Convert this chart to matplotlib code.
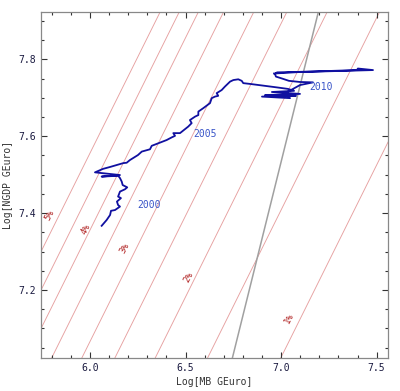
import matplotlib
matplotlib.use("Agg")
import matplotlib.pyplot as plt
from matplotlib.ticker import MultipleLocator

# ---- data ----
mb = [6.061, 6.087, 6.105, 6.110, 6.131, 6.157, 6.147, 6.141, 6.162, 6.147,
      6.157, 6.183, 6.195, 6.171, 6.166, 6.157, 6.148, 6.061, 6.157, 6.026,
      6.068, 6.105, 6.174, 6.192, 6.209, 6.251, 6.271, 6.314, 6.323, 6.349,
      6.401, 6.428, 6.445, 6.436, 6.471, 6.514, 6.532, 6.523, 6.550, 6.567,
      6.567, 6.593, 6.628, 6.637, 6.654, 6.671, 6.663, 6.689, 6.706, 6.733,
      6.750, 6.776, 6.794, 6.802, 6.837, 6.977, 7.036, 7.068, 6.952, 7.099,
      6.916, 7.078, 6.900, 7.047, 7.015, 7.099, 7.167, 7.099, 7.041, 7.005,
      6.973, 6.968, 6.979, 7.151, 7.397, 7.402, 7.481, 7.334, 7.099, 6.963]
ngdp = [7.367, 7.382, 7.395, 7.406, 7.408, 7.417, 7.421, 7.430, 7.439, 7.443,
        7.456, 7.462, 7.467, 7.473, 7.482, 7.491, 7.497, 7.495, 7.499, 7.506,
        7.515, 7.520, 7.530, 7.531, 7.538, 7.551, 7.560, 7.566, 7.575, 7.580,
        7.590, 7.597, 7.601, 7.608, 7.608, 7.625, 7.634, 7.642, 7.651, 7.655,
        7.664, 7.673, 7.686, 7.699, 7.703, 7.705, 7.712, 7.720, 7.729, 7.742,
        7.746, 7.748, 7.744, 7.738, 7.736, 7.727, 7.723, 7.718, 7.715, 7.710,
        7.707, 7.705, 7.703, 7.699, 7.710, 7.733, 7.740, 7.741, 7.744, 7.750,
        7.755, 7.762, 7.766, 7.768, 7.772, 7.776, 7.772, 7.770, 7.767, 7.763]

# iso-rate lines  y = x + c
rate_intercepts = [0.025, 0.408, 0.682, 0.893, 1.066, 1.224, 1.356, 1.456, 1.556]
rate_labels = ["1%", "2%", "3%", "4%", "5%"]
rate_label_x = [7.040, 6.514, 6.182, 5.977, 5.787]
rate_label_y = [7.127, 7.233, 7.309, 7.358, 7.394]

# gray line  y = 2 x + k
gray_slope = 2.0
gray_intercept = -6.467

year_labels = ["2000", "2005", "2010"]
year_x = [6.308, 6.603, 7.208]
year_y = [7.420, 7.605, 7.727]

xlim = (5.7436, 7.5595)
ylim = (7.0232, 7.923)

fig = plt.figure(figsize=(4.0, 3.91), dpi=100)
ax = fig.add_axes([0.1025, 0.0844, 0.8675, 0.8849])

for c in rate_intercepts:
    ax.axline((0, c), slope=1.0, color="#e6a0a0", lw=0.65, zorder=1)
ax.axline((0, gray_intercept), slope=gray_slope, color="#a0a0a0", lw=1.1, zorder=1)

ax.plot(mb, ngdp, color="#1010a0", lw=1.3, zorder=3)

for t, x, y in zip(rate_labels, rate_label_x, rate_label_y):
    ax.text(x, y, t, rotation=63, ha="center", va="center", fontsize=6.5,
            color="#b02020", family="DejaVu Sans Mono", zorder=2)
for t, x, y in zip(year_labels, year_x, year_y):
    ax.text(x, y, t, ha="center", va="center", fontsize=7,
            color="#3a55c8", family="DejaVu Sans Mono", zorder=4)

ax.set_xlim(xlim)
ax.set_ylim(ylim)
ax.xaxis.set_major_locator(MultipleLocator(0.5))
ax.xaxis.set_minor_locator(MultipleLocator(0.1))
ax.yaxis.set_major_locator(MultipleLocator(0.2))
ax.yaxis.set_minor_locator(MultipleLocator(0.05))
ax.tick_params(which="both", direction="in", top=True, right=True,
               color="#333333", labelsize=7, labelcolor="#1a1a40", width=0.8)
ax.tick_params(which="major", length=4)
ax.tick_params(which="minor", length=2)
for lab in ax.get_xticklabels() + ax.get_yticklabels():
    lab.set_family("DejaVu Sans Mono")
for s in ax.spines.values():
    s.set_color("#888888")
    s.set_linewidth(0.9)

ax.set_xlabel("Log[MB GEuro]", fontsize=7, family="DejaVu Sans Mono",
              color="#333333", labelpad=3)
ax.set_ylabel("Log[NGDP GEuro]", fontsize=7, family="DejaVu Sans Mono",
              color="#333333", labelpad=4)

fig.savefig("out.png", dpi=100)
